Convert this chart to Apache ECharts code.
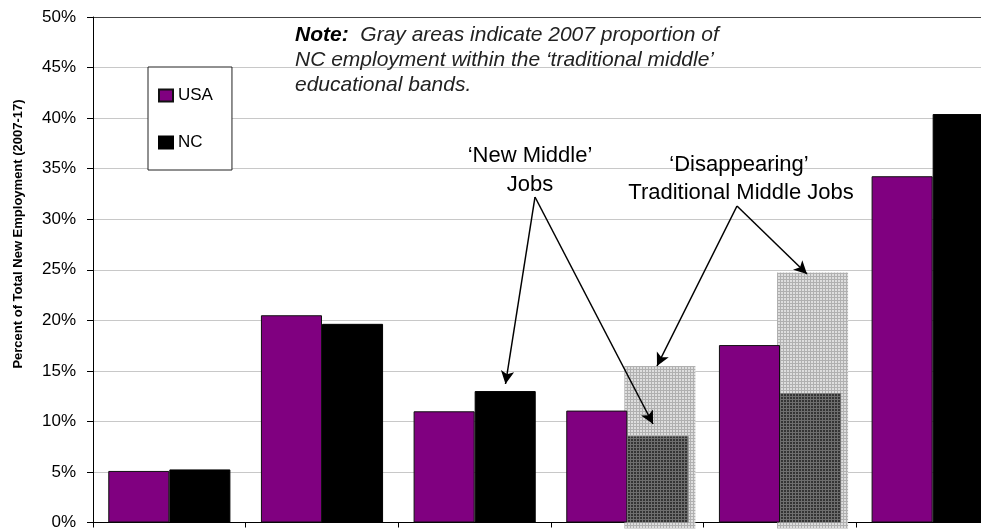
<!DOCTYPE html>
<html>
<head>
<meta charset="utf-8">
<script src="https://cdn.jsdelivr.net/npm/echarts@6/dist/echarts.min.js"></script>
<style>
html,body{margin:0;padding:0;background:#fff;overflow:hidden;width:981px;height:531px;}
#chart{width:1010px;height:531px;}
</style>
</head>
<body>
<div id="chart"></div>
<script>
// ---- data ----
var categories = ['Band 1', 'Band 2', 'Band 3', 'Band 4', 'Band 5', 'Band 6'];
var usaValues = [5.1, 20.5, 11.0, 11.07, 17.55, 34.25];
var ncValues = [5.25, 19.65, 13.0, 8.53, 12.78, 40.4];
var nc2007Middle = [null, null, null, 15.47, 24.73, null];
var yTicks = [0, 5, 10, 15, 20, 25, 30, 35, 40, 45, 50];

// ---- styles ----
var FONT = '"Liberation Sans", Arial, sans-serif';
function makePattern(bg, line, size) {
  var c = document.createElement('canvas');
  c.width = size; c.height = size;
  var ctx = c.getContext('2d');
  ctx.fillStyle = bg; ctx.fillRect(0, 0, size, size);
  ctx.fillStyle = line; ctx.fillRect(0, 0, size, 1); ctx.fillRect(0, 0, 1, size);
  return c;
}
var lightPat = { image: makePattern('#dedede', '#b0b0b0', 3), repeat: 'repeat' };
var darkPat = { image: makePattern('#343434', '#6e6e6e', 3), repeat: 'repeat' };

var splitColors = yTicks.map(function (t, i) { return i === yTicks.length - 1 ? '#444' : '#c8c8c8'; });

var ncData = ncValues.map(function (v, i) {
  if (nc2007Middle[i] != null) {
    return { value: v, itemStyle: { color: darkPat, borderWidth: 0 } };
  }
  return v;
});
var grayData = [];
nc2007Middle.forEach(function (v, i) { if (v != null) grayData.push([i, v]); });

var chart = echarts.init(document.getElementById('chart'), null, { renderer: 'canvas', width: 1010, height: 531 });
chart.setOption({
  animation: false,
  backgroundColor: '#fff',
  textStyle: { fontFamily: FONT },
  grid: { left: 93, top: 17, right: 1, bottom: 8, containLabel: false },
  legend: {
    data: ['USA', 'NC'],
    orient: 'vertical',
    left: 148, top: 67,
    backgroundColor: '#fff',
    borderColor: '#222', borderWidth: 1,
    padding: [20, 19, 19, 10],
    itemGap: 30,
    itemWidth: 14, itemHeight: 12,
    icon: 'rect',
    selectedMode: false,
    textStyle: { fontSize: 17, color: '#000', fontFamily: FONT }
  },
  xAxis: {
    type: 'category',
    data: categories,
    boundaryGap: true,
    axisLine: { show: true, lineStyle: { color: '#000', width: 1 } },
    axisTick: { show: true, length: 5, lineStyle: { color: '#000' } },
    axisLabel: { show: false },
    splitLine: { show: false }
  },
  yAxis: {
    type: 'value',
    min: 0, max: 50, interval: 5,
    axisLine: { show: true, lineStyle: { color: '#000', width: 1 } },
    axisTick: { show: true, length: 6, lineStyle: { color: '#000' } },
    axisLabel: { formatter: '{value}%', fontSize: 17, color: '#000', margin: 17, fontFamily: FONT },
    splitLine: { show: true, lineStyle: { color: splitColors, width: 1 } }
  },
  series: [
    {
      name: 'USA', type: 'bar', data: usaValues,
      barGap: 0, barCategoryGap: '20%', z: 3,
      itemStyle: { color: '#800080', borderColor: '#111', borderWidth: 1 },
      markLine: {
        silent: true, symbol: ['none', 'arrow'], symbolSize: [10, 13],
        lineStyle: { color: '#000', width: 1.5, type: 'solid' },
        label: { show: false },
        data: [
          [{ x: 535, y: 197 }, { x: 505.5, y: 384 }],
          [{ x: 535, y: 197 }, { x: 653, y: 424 }],
          [{ x: 737, y: 206 }, { x: 657, y: 366 }],
          [{ x: 737, y: 206 }, { x: 807, y: 274 }]
        ]
      }
    },
    {
      name: 'NC', type: 'bar', data: ncData,
      barGap: 0, barCategoryGap: '20%', z: 3,
      itemStyle: { color: '#000', borderColor: '#000', borderWidth: 1 }
    },
    {
      name: 'NC 2007 traditional middle', type: 'custom', z: 2,
      data: grayData,
      renderItem: function (params, api) {
        var idx = api.value(0);
        var top = api.coord([idx, api.value(1)]);
        var base = api.coord([idx, 0]);
        var w = api.size([1, 0])[0];
        var x0 = top[0] - 3;
        var x1 = top[0] + w * 0.4 + 7;
        return {
          type: 'rect',
          shape: { x: x0, y: top[1], width: x1 - x0, height: base[1] - top[1] + 6 },
          style: { fill: lightPat }
        };
      }
    }
  ],
  graphic: [
    {
      type: 'text', left: 295, top: 23, z: 10,
      style: {
        text: '{b|Note:}  Gray areas indicate 2007 proportion of\nNC employment within the \u2018traditional middle\u2019\neducational bands.',
        font: 'italic 21px ' + FONT, fill: '#222', lineHeight: 25,
        rich: { b: { fontWeight: 'bold', fontStyle: 'italic', fontSize: 21, fontFamily: FONT, fill: '#000', lineHeight: 25 } }
      }
    },
    {
      type: 'text', x: 18, y: 234, rotation: Math.PI / 2, z: 10,
      style: {
        text: 'Percent of Total New Employment (2007-17)',
        font: 'bold 13px ' + FONT, fill: '#000', align: 'center', verticalAlign: 'middle'
      }
    },
    {
      type: 'text', x: 530, y: 156, z: 10,
      style: { text: '\u2018New Middle\u2019', font: '22px ' + FONT, fill: '#000', align: 'center', verticalAlign: 'middle' }
    },
    {
      type: 'text', x: 530, y: 185, z: 10,
      style: { text: 'Jobs', font: '22px ' + FONT, fill: '#000', align: 'center', verticalAlign: 'middle' }
    },
    {
      type: 'text', x: 739, y: 165, z: 10,
      style: { text: '\u2018Disappearing\u2019', font: '22px ' + FONT, fill: '#000', align: 'center', verticalAlign: 'middle' }
    },
    {
      type: 'text', x: 741, y: 193, z: 10,
      style: { text: 'Traditional Middle Jobs', font: '22px ' + FONT, fill: '#000', align: 'center', verticalAlign: 'middle' }
    }
  ]
});
</script>
</body>
</html>
